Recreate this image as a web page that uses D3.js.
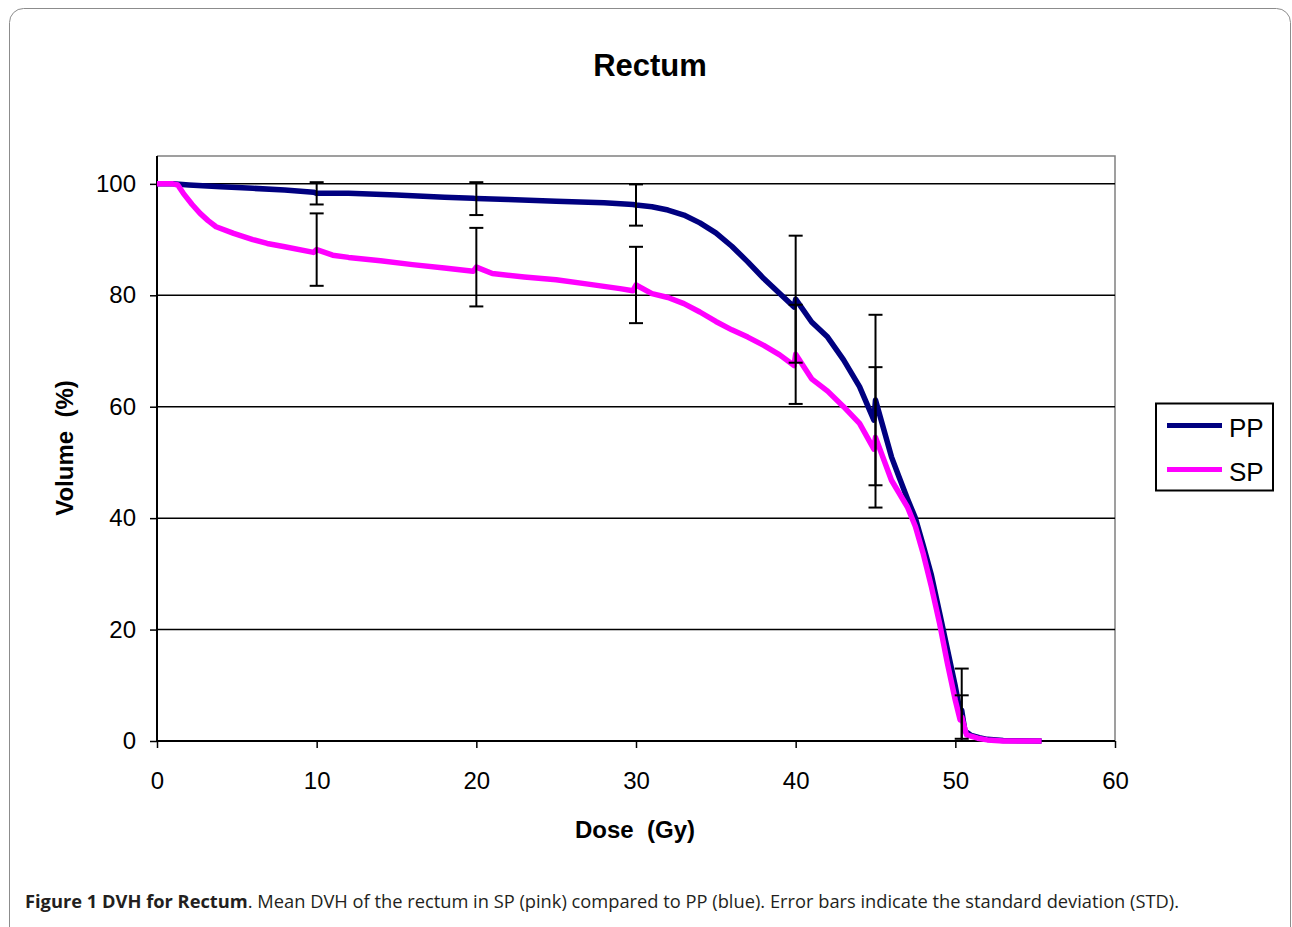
<!DOCTYPE html>
<html>
<head>
<meta charset="utf-8">
<script src="https://cdn.jsdelivr.net/npm/d3@7"></script>
<style>
  body { margin: 0; background: #fff; }
  svg { display: block; }
</style>
</head>
<body>
<div id="chart"></div>
<script>
// Dimensions de la page
const width = 1292;
const height = 927;

// --- Données ---
const chartTitle = "Rectum";
const seriesNames = ["PP", "SP"];

// Courbe moyenne PP (bleu)
const ppDose   = [0, 1, 2, 4, 6, 8, 9.8, 12, 15, 18, 19.8, 22, 25, 28, 29.8, 31, 32, 33, 34, 35, 36, 37, 38, 39, 39.9,
                  41, 42, 43, 44, 44.9, 46, 46.5, 47, 47.5, 48, 48.5, 49, 49.5, 50, 50.3, 50.6, 51, 51.5, 52, 53, 55.4];
const ppVolume = [100, 100, 99.8, 99.5, 99.2, 98.9, 98.5, 98.3, 98.0, 97.6, 97.4, 97.2, 96.9, 96.6, 96.3, 95.9, 95.3, 94.4, 93.0, 91.2, 88.8, 86.0, 83.0, 80.3, 77.9,
                  75.2, 72.5, 68.4, 63.6, 57.6, 51.0, 47.2, 43.5, 40.0, 35.0, 29.8, 23.2, 16.5, 9.8, 5.2, 1.8, 1.0, 0.6, 0.3, 0.1, 0];

// Courbe moyenne SP (rose)
const spDose   = [0, 1, 1.3, 1.65, 2.2, 2.7, 3.2, 3.7, 4.8, 6, 6.9, 8, 9.8, 11, 12, 14, 16, 18, 19.8, 21, 23, 25, 27, 29, 29.8,
                  31, 32, 33, 34, 35, 36, 37, 38, 39, 39.9, 41, 42, 43, 44, 44.9, 46, 47, 47.5, 48, 48.5, 49, 49.5, 50, 50.3, 50.7, 51.4, 52, 53, 55.4];
const spVolume = [100, 100, 99.8, 98.3, 96.3, 94.7, 93.4, 92.3, 91.1, 90.0, 89.3, 88.7, 87.7, 87.2, 86.8, 86.2, 85.5, 84.9, 84.3, 83.9, 83.3, 82.8, 82.0, 81.2, 80.8,
                  80.3, 79.6, 78.5, 77.0, 75.3, 73.8, 72.5, 71.0, 69.3, 67.4, 65.0, 62.8, 60.0, 57.0, 52.4, 46.8, 42.0, 38.5, 33.5, 27.7, 21.3, 14.0, 7.3, 3.8, 1.1, 0.5, 0.2, 0, 0];

// Barres d'erreur (moyenne ± écart type)
const errDose = [10, 20, 30, 40, 45, 50.4];
const ppMean  = [98.3, 97.35, 96.2, 79.3, 61.2, 5.5];
const ppStd   = [2.0, 2.95, 3.7, 11.4, 15.3, 7.5];
const spMean  = [88.2, 85.05, 81.85, 69.4, 54.5, 4.3];
const spStd   = [6.5, 7.05, 6.85, 8.9, 12.6, 3.9];

const xTicks = [0, 10, 20, 30, 40, 50, 60];
const yTicks = [0, 20, 40, 60, 80, 100];

const captionBold = "Figure 1 DVH for Rectum";
const captionText = ". Mean DVH of the rectum in SP (pink) compared to PP (blue). Error bars indicate the standard deviation (STD).";

// --- Construction ---
const colors = { PP: "#000080", SP: "#FF00FF" };
const font = "Arial, 'Liberation Sans', sans-serif";

const x = d3.scaleLinear().domain([0, 60]).range([157, 1115]);
const y = d3.scaleLinear().domain([0, 105]).range([741, 156]);

const svg = d3.select("#chart")
    .append("svg")
    .attr("width", width)
    .attr("height", height);

// Cadre arrondi de la figure
svg.append("rect")
    .attr("x", 9.5).attr("y", 8.5)
    .attr("width", 1281).attr("height", 940)
    .attr("rx", 14)
    .attr("fill", "none")
    .attr("stroke", "#8c8c8c")
    .attr("stroke-width", 1);

// Titre
svg.append("text")
    .attr("x", 650).attr("y", 76)
    .attr("text-anchor", "middle")
    .attr("font-family", font)
    .attr("font-weight", "bold")
    .attr("font-size", 31)
    .text(chartTitle);

// Bordure haute / droite de la zone de tracé
svg.append("path")
    .attr("d", `M${x(0)},${y(105)}H${x(60)}V${y(0)}`)
    .attr("fill", "none")
    .attr("stroke", "#808080")
    .attr("stroke-width", 1.5);

// Quadrillage
svg.append("g")
    .selectAll("line")
    .data(yTicks.filter(d => d > 0))
    .join("line")
    .attr("x1", x(0)).attr("x2", x(60))
    .attr("y1", d => y(d)).attr("y2", d => y(d))
    .attr("stroke", "#000")
    .attr("stroke-width", 1.5);

// Axes
const xAxis = svg.append("g")
    .attr("transform", `translate(0,${y(0)})`)
    .call(d3.axisBottom(x).tickValues(xTicks).tickSize(7).tickPadding(24).tickSizeOuter(0));
const yAxis = svg.append("g")
    .attr("transform", `translate(${x(0)},0)`)
    .call(d3.axisLeft(y).tickValues(yTicks).tickSize(7).tickPadding(14).tickSizeOuter(0));

[xAxis, yAxis].forEach(g => {
    g.select(".domain").attr("stroke", "#000").attr("stroke-width", 2);
    g.selectAll(".tick line").attr("stroke", "#000").attr("stroke-width", 1.5);
    g.selectAll(".tick text")
        .attr("fill", "#000")
        .attr("font-family", font)
        .attr("font-size", 24);
});
yAxis.select(".domain").attr("d", `M0,${y(105)}V${y(0)}`);
xAxis.select(".domain").attr("d", `M${x(0)},0H${x(60)}`);

// Titres des axes
svg.append("text")
    .attr("x", 635).attr("y", 838)
    .attr("text-anchor", "middle")
    .attr("font-family", font)
    .attr("font-weight", "bold")
    .attr("font-size", 24)
    .attr("xml:space", "preserve")
    .text("Dose  (Gy)");

svg.append("text")
    .attr("transform", "translate(73,448) rotate(-90)")
    .attr("text-anchor", "middle")
    .attr("font-family", font)
    .attr("font-weight", "bold")
    .attr("font-size", 24)
    .attr("xml:space", "preserve")
    .text("Volume  (%)");

// Courbes : points de la courbe + points moyens des barres d'erreur
const ppPoints = ppDose.map((d, i) => [d, ppVolume[i]])
    .concat(errDose.map((d, i) => [d, ppMean[i]]))
    .sort((a, b) => a[0] - b[0]);
const spPoints = spDose.map((d, i) => [d, spVolume[i]])
    .concat(errDose.map((d, i) => [d, spMean[i]]))
    .sort((a, b) => a[0] - b[0]);

const line = d3.line()
    .x(d => x(d[0]))
    .y(d => y(d[1]));

svg.append("path")
    .datum(ppPoints)
    .attr("d", line)
    .attr("fill", "none")
    .attr("stroke", colors.PP)
    .attr("stroke-width", 5.5)
    .attr("stroke-linejoin", "round");

svg.append("path")
    .datum(spPoints)
    .attr("d", line)
    .attr("fill", "none")
    .attr("stroke", colors.SP)
    .attr("stroke-width", 5.5)
    .attr("stroke-linejoin", "round");

// Barres d'erreur
const errData = [];
errDose.forEach((d, i) => {
    errData.push({ dose: d, mean: ppMean[i], std: ppStd[i] });
    errData.push({ dose: d, mean: spMean[i], std: spStd[i] });
});

const errG = svg.append("g")
    .attr("stroke", "#000")
    .attr("stroke-width", 2);

errData.forEach(e => {
    const hi = e.mean + e.std;
    const lo = Math.max(0, e.mean - e.std);
    const cx = x(e.dose);
    errG.append("line")
        .attr("x1", cx).attr("x2", cx)
        .attr("y1", y(hi)).attr("y2", y(lo));
    [hi, lo].forEach(v => {
        errG.append("line")
            .attr("x1", cx - 7).attr("x2", cx + 7)
            .attr("y1", y(v)).attr("y2", y(v));
    });
});

// Légende
const legend = svg.append("g");
legend.append("rect")
    .attr("x", 1156).attr("y", 403.5)
    .attr("width", 117).attr("height", 87)
    .attr("fill", "#fff")
    .attr("stroke", "#000")
    .attr("stroke-width", 2);

seriesNames.forEach((name, i) => {
    const ly = 425.5 + i * 44;
    legend.append("line")
        .attr("x1", 1167).attr("x2", 1222)
        .attr("y1", ly).attr("y2", ly)
        .attr("stroke", colors[name])
        .attr("stroke-width", 5);
    legend.append("text")
        .attr("x", 1229).attr("y", ly + 11)
        .attr("font-family", font)
        .attr("font-size", 26)
        .text(name);
});

// Légende de la figure (caption)
const caption = svg.append("text")
    .attr("x", 25).attr("y", 908)
    .attr("font-family", "'Open Sans', 'Noto Sans', sans-serif")
    .attr("font-size", 17)
    .attr("fill", "#231f20");
caption.append("tspan").attr("font-weight", "bold").text(captionBold);
caption.append("tspan").text(captionText);

// Ajuste la taille pour occuper la même largeur que la figure d'origine
const capW = caption.node().getComputedTextLength();
caption.attr("font-size", 17 * 1155 / capW);
</script>
</body>
</html>
